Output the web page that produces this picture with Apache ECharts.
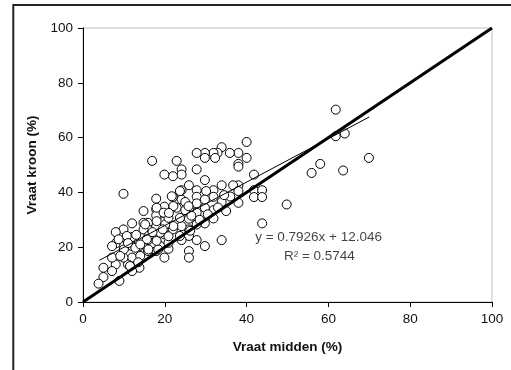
<!DOCTYPE html>
<html>
<head>
<meta charset="utf-8">
<script src="https://cdn.jsdelivr.net/npm/echarts@6/dist/echarts.min.js"></script>
<style>html,body{margin:0;padding:0;background:#fff}#c{width:511px;height:370px}</style>
</head>
<body>
<div id="c"></div>
<script>
// Vraat midden (%) values (x)
const midden = [61.8,61.8,64,69.9,58,55.9,63.6,49.8,43.8,
40,40,38,35.9,33.9,32.9,31.9,32.3,29.8,29.8,27.8,27.8,38,38,41.8,41.8,43.8,41.8,43.8,38,36.7,38,38,33.9,33.9,35,31.9,31.9,31.9,31.9,29.8,29.8,29.8,29.8,27.8,27.8,27.8,27.8,27.8,33.9,25.9,25.9,25.9,25.9,25.9,25.9,25.9,24.1,24.1,24.1,22.9,22,22,22.9,24.1,25,25,24.1,24.1,22,20.9,19.9,19.9,19.9,19.9,19.9,18.9,17.9,17.9,17.9,17.9,17.9,16.9,15.9,15.9,15.9,15.9,14.8,14.8,14.8,13.8,13.8,12,12,12,12,12,11,9.9,9.9,9.9,9.9,8,8,8,8.9,7.1,7.1,7.1,5,5,3.8,
21.7,23.7,30.1,18,18,15.2,16,10.7,8.7,12.8,14,10,9.1,11.5,15.6,16,18.4,18,18.9,20.9,20.9,22.1,20.1,20.9,19.7,22.1,23.7,23.7,26.2,27.8,25.8,29.8,28.5,30.5,33,13,14,17,21,26.5,36,34.5,19.5,11,13.5];
// Vraat kroon (%) values (y)
const kroon = [70.2,60.5,61.5,52.6,50.4,47.1,48,35.6,28.7,
58.4,52.6,54.4,54.4,56.5,54.4,54.4,52.6,54.4,52.6,54.4,48.4,50.4,49.4,46.5,40.8,40.8,38.3,38.3,42.6,42.6,40.5,36.2,42.6,36.5,33.2,40.8,38.4,33.5,30.5,44.5,34.4,28.7,20.4,40.8,38.4,36,32.6,22.6,22.6,42.6,33.8,30.4,26.5,24.1,18.6,16.2,48.4,46.5,40.8,51.5,45.9,38.3,34.4,37.4,36.5,33.5,27.7,22.6,26.5,19.4,46.5,34.8,29.5,24.7,16.2,20.4,37.7,33.8,31.6,27.7,18.6,51.5,28.9,26.5,22.6,18.6,33.2,28.9,26.5,20.4,12.5,28.7,23.7,20.4,16.2,11.3,13.7,39.5,26.5,20.4,16.2,25.5,21.4,13.7,7.7,20.4,16.2,11.3,12.5,9.1,6.7,
38.6,40.5,40.5,34.4,29.5,28.3,24.1,24.1,22.9,19.8,16.8,19.2,16.8,13.1,22.9,19.2,19.2,22.3,25.3,21.6,24,27.7,28.3,30.7,32.6,35,30.7,24.1,26,28.3,35,37.4,30,32,34.5,24.5,21,25.5,32.5,31.5,38.5,39,26.5,21.5,14.5];
// Trendline y = 0.7926x + 12.046 over the data range, and 1:1 line
const slope = 0.7926, intercept = 12.046;
const trendX = [4, 70];
const oneToOne = [0, 100];
const axisTicks = [0, 20, 40, 60, 80, 100];
const annotations = [
  {x: 57.6, y: 23.6, text: 'y = 0.7926x + 12.046'},
  {x: 57.8, y: 16.7, text: 'R² = 0.5744'}
];

const font = '"Liberation Sans", Arial, sans-serif';
const chart = echarts.init(document.getElementById('c'));
const axisCommon = {
  type: 'value', min: axisTicks[0], max: axisTicks[axisTicks.length-1], interval: 20,
  nameLocation: 'middle',
  nameTextStyle: {fontFamily: font, fontSize: 13.5, fontWeight: 'bold', color: '#111'},
  axisLine: {show: true, onZero: false, lineStyle: {color: '#000', width: 1}},
  axisTick: {show: true, inside: false, length: 5, lineStyle: {color: '#000', width: 1}},
  axisLabel: {fontFamily: font, fontSize: 13.5, color: '#111', margin: 10},
  splitLine: {show: false}
};
chart.setOption({
  animation: false,
  backgroundColor: '#fff',
  grid: {left: 83, right: 19, top: 28, bottom: 68, show: true, borderColor: '#bfbfbf', borderWidth: 1, backgroundColor: 'transparent'},
  xAxis: Object.assign({}, axisCommon, {name: 'Vraat midden (%)', nameGap: 38}),
  yAxis: Object.assign({}, axisCommon, {name: 'Vraat kroon (%)', nameGap: 26}),
  graphic: [{type: 'rect', silent: true, z: 100, shape: {x: 13.3, y: 5, width: 600, height: 420},
    style: {fill: 'none', stroke: '#222', lineWidth: 2}}],
  series: [
    {type: 'scatter', symbol: 'circle', symbolSize: 9, z: 2,
     data: midden.map((x, i) => [x, kroon[i]]),
     itemStyle: {color: '#fff', borderColor: '#000', borderWidth: 1, opacity: 1}},
    {type: 'line', symbol: 'none', z: 3, data: trendX.map(x => [x, slope * x + intercept]),
     lineStyle: {color: '#000', width: 1}},
    {type: 'line', symbol: 'none', z: 4, data: oneToOne.map(v => [v, v]),
     lineStyle: {color: '#000', width: 3}},
    {type: 'scatter', symbolSize: 0, z: 5, silent: true,
     data: annotations.map(a => [a.x, a.y, a.text]),
     label: {show: true, position: 'inside', formatter: p => p.data[2], fontFamily: font, fontSize: 13.5, color: '#111'}}
  ]
});
</script>
</body>
</html>
